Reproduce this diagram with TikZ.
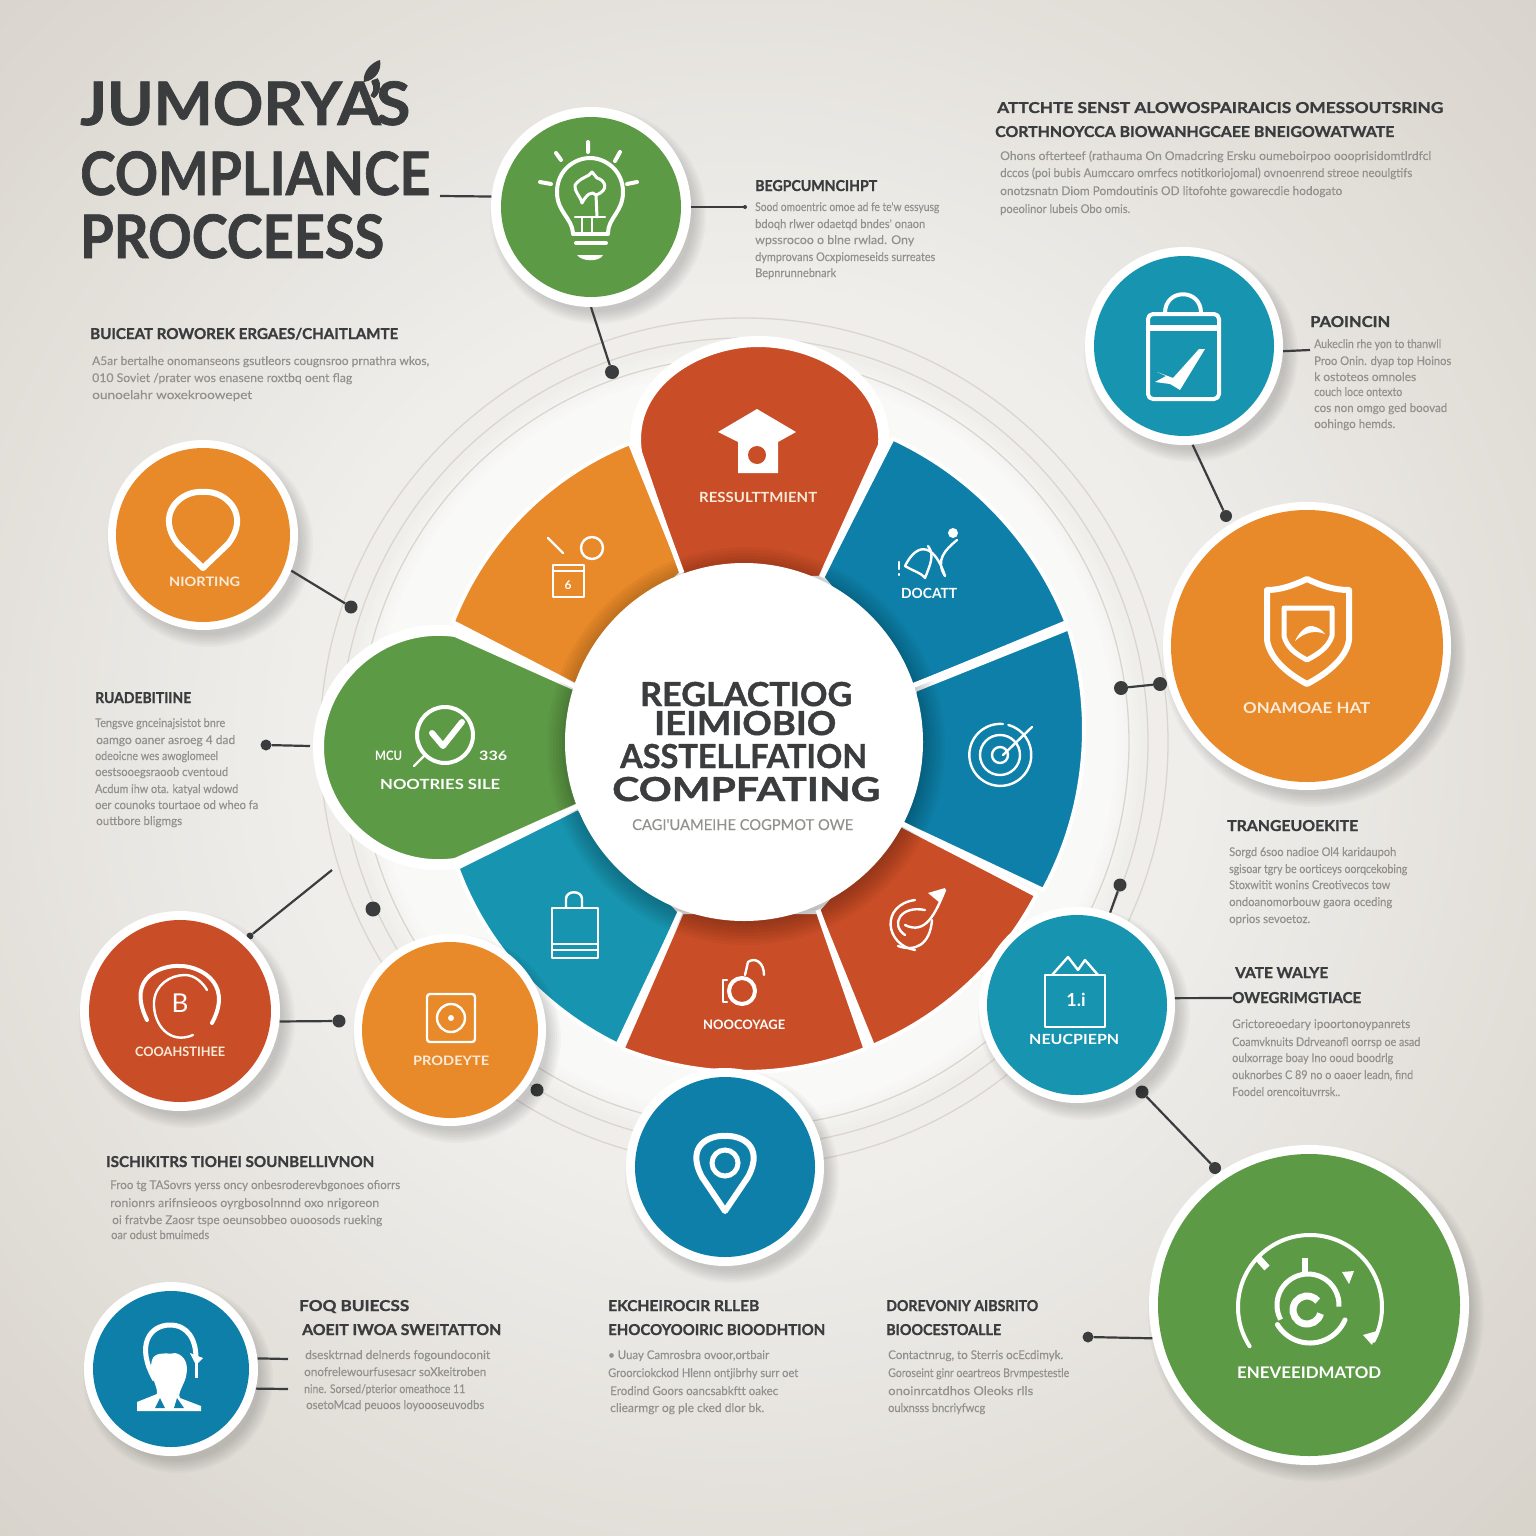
\documentclass[tikz,border=0pt]{standalone}
\usepackage{graphicx}
\usepackage{fontspec}
\setmainfont{Lato}
\newfontfamily\heavyf[FakeBold=1.2]{Lato Bold}
\newfontfamily\bodyf[FakeBold=0.25]{Lato}
\definecolor{bgA}{HTML}{F9F9F7}
\definecolor{bgD}{HTML}{EFEEEB}
\definecolor{bgC}{HTML}{D8D3CB}
\definecolor{ringc}{HTML}{DAD6CE}
\definecolor{ink}{HTML}{3A3C3E}
\definecolor{bodyc}{HTML}{92918D}
\definecolor{cOr}{HTML}{E8892A}
\definecolor{cRe}{HTML}{C94D27}
\definecolor{cGr}{HTML}{5D9A46}
\definecolor{cTe}{HTML}{1794AF}
\definecolor{cBl}{HTML}{0E7FA8}
\definecolor{cLab}{HTML}{FAEBD8}
\newcount\tn
\newcommand\Tx[6]{\global\advance\tn by 1
 \node[anchor=base west,inner sep=0pt,text=#6] (tx\the\tn) at (#1,#3) {\resizebox{\dimexpr#2pt-#1pt\relax}{\height}{\fontsize{#4}{#4}\selectfont #5}};}
\newcommand\Hd[4]{\Tx{#1}{#2}{#3+5}{15}{\heavyf #4}{ink}}
\newcommand\Bd[4]{\Tx{#1}{#2}{#3+4}{12}{\bodyf #4}{bodyc}}
\newcommand\Lb[5]{\Tx{#1}{#2}{#3+4.5}{#4}{\bfseries #5}{white}}
\newcommand\HubT[4]{\Tx{#1}{#2}{#3}{33}{\heavyf #4}{ink}}
\newcommand\Sector[6]{\fill[#1,draw=white,line width=4pt,line join=round] #5 -- plot[domain=#2:#3,samples=40] ({744+(#4)*cos(\x)},{742+(#4)*sin(\x)}) -- #6 -- cycle;}
\newcommand\Shad[3]{\foreach \k in {0,2,...,12}{\fill[black,fill opacity=.022] ({#1+7},{#2+9}) circle[radius={(#3+\k-4)*1pt}];}}
\newcommand\Badge[6]{\Shad{#2}{#3}{#5}
 \node[badge,minimum size={2*#5*1pt}] (#1) at (#2,#3) {};
 \fill[#6] (#1.center) circle[radius=#4 pt];}
\tikzset{
 badge/.style={circle,fill=white!97!bgA,inner sep=0pt},
 conn/.style={draw=ink,line width=2.2pt},
 dotn/.style={circle,fill=ink,inner sep=0pt,minimum size=#1},
 dotn/.default=13pt,
 icon/.style={draw=white,line width=4pt,line cap=round,line join=round},
 thin icon/.style={draw=white,line width=2.4pt,line cap=round,line join=round},
 ringl/.style={draw=ringc,line width=1.3pt}
}
\begin{document}
\begin{tikzpicture}[x=1pt,y=-1pt]
\useasboundingbox (0,0) rectangle (1536,1536);
% background
\begin{scope}
\clip (0,0) rectangle (1536,1536);
\fill[bgC] (0,0) rectangle (1536,1536);
\foreach \r in {1100,1090,...,450}{
 \pgfmathsetmacro\m{(\r-450)/6.5}
 \fill[bgC!\m!bgD] (744,742) circle[radius=\r pt];}
\foreach \r in {400,396,...,372}{
 \pgfmathsetmacro\m{(400-\r)/28*100}
 \fill[bgA!\m!bgD] (744,742) circle[radius=\r pt];}
\end{scope}
% rings
\draw[ringl] (744,742) circle[radius=385pt];
\draw[ringl] (744,742) circle[radius=404pt];
\draw[ringl] (744,742) circle[radius=424pt];
% pins halos
\path[fill=white,draw=white,line width=18pt,line join=round] (682,575) -- (640,452) .. controls (630,385) and (700,345) .. (758,345) .. controls (820,345) and (885,385) .. (880,445) -- (820,578) -- cycle;
\path[fill=white,draw=white,line width=18pt,line join=round] (578,690) -- (455,635) .. controls (385,625) and (322,680) .. (322,747) .. controls (322,815) and (385,870) .. (455,860) -- (578,805) -- cycle;
% wedges
\Sector{cOr}{202.4}{249.1}{315+5*(\x-202.4)/46.7}{(575,685)}{(682,572)}
\Sector{cBl}{-63.9}{-20.4}{338+6*(\x+63.9)/43.5}{(822,577)}{(912,686)}
\Sector{cBl}{-19.3}{26.3}{344-10*(\x+19.3)/45.6}{(915,690)}{(895,820)}
\Sector{cRe}{27.6}{67}{330}{(895,822)}{(818,910)}
\Sector{cRe}{68.4}{111.6}{330}{(818,912)}{(682,912)}
\Sector{cTe}{112.7}{156.3}{328-15*(\x-112.7)/43.6}{(680,912)}{(578,808)}
\path[fill=cRe,draw=white,line width=4pt,line join=round] (682,575) -- (640,452) .. controls (630,385) and (700,345) .. (758,345) .. controls (820,345) and (885,385) .. (880,445) -- (820,578) -- cycle;
\path[fill=cGr,draw=white,line width=4pt,line join=round] (578,690) -- (455,635) .. controls (385,625) and (322,680) .. (322,747) .. controls (322,815) and (385,870) .. (455,860) -- (578,805) -- cycle;
% shadow of the hub on the wedges
\begin{scope}
\clip (744,742) circle[radius=315pt];
\foreach \k in {0,3,...,21}{\fill[black,fill opacity=.03] (746,746) circle[radius={(178+\k)*1pt}];}
\end{scope}
\draw[white,line width=5pt] (895,820) -- (1037,895);
\draw[white,line width=5pt] (818,910) -- (868,1048);
\draw[white,line width=5pt] (680,912) -- (620,1047);
\draw[white,line width=5pt] (578,806) -- (457,866);
\draw[white,line width=5pt] (912,686) -- (1067,624);
\draw[white,line width=5pt] (822,577) -- (890,440);
\draw[white,line width=5pt] (682,573) -- (635,445);
\draw[white,line width=5pt] (578,688) -- (455,625);
% hub
\node[circle,fill=white,inner sep=0pt,minimum size=358pt] (hub) at (744,742) {};
% connectors' free ends and dots
\coordinate (ruleA) at (440,196);
\coordinate (tickB) at (745,207);
\coordinate (tickC) at (1310,350);
\coordinate (wpA) at (310,746);
\coordinate (freeA) at (332,870);
\coordinate (shortD) at (1232,998);
\coordinate (pA) at (288,1359);
\coordinate (pB) at (288,1389);
\node[dotn=14pt] (d1) at (612,372) {};
\node[dotn=12pt] (d2) at (1226,516) {};
\node[dotn=13pt] (d3) at (351,607) {};
\node[dotn=11pt] (d4) at (266,745) {};
\node[dotn=7pt] (d5) at (250,936) {};
\node[dotn=13pt] (d6) at (339,1021) {};
\node[dotn=15pt] (d7) at (373,909) {};
\node[dotn=13pt] (d8) at (537,1090) {};
\node[dotn=14pt] (d9) at (1121,688) {};
\node[dotn=14pt] (d10) at (1160,684) {};
\node[dotn=13pt] (d11) at (1120,885) {};
\node[dotn=13pt] (d12) at (1142,1092) {};
\node[dotn=12pt] (d13) at (1215,1168) {};
\node[dotn=11pt] (d14) at (1088,1337) {};
\node[dotn=4pt] (d15) at (745,207) {};
% badges
\Badge{bulb}{591}{207}{90}{100}{cGr}
\Badge{clip}{1184}{346}{90}{99}{cTe}
\Badge{pinL}{203}{535}{87}{95}{cOr}
\Badge{shield}{1307}{646}{136}{144}{cOr}
\Badge{redL}{180}{1011}{91}{100}{cRe}
\Badge{orS}{450}{1030}{88}{96}{cOr}
\Badge{teR}{1077}{1005}{90}{98}{cTe}
\Badge{pinB}{725}{1167}{90}{99}{cBl}
\Badge{bigG}{1309}{1305}{151}{160}{cGr}
\Badge{person}{171}{1369}{78}{87}{cBl}
% connectors
\draw[conn] (ruleA) -- (bulb.174);
\draw[conn] (bulb.-90) -- (d1);
\draw[conn] (bulb) -- (tickB);
\draw[conn] (clip.-3) -- (tickC);
\draw[conn] (clip.-85) -- (d2);
\draw[conn] (pinL.-22) -- (d3);
\draw[conn] (wpA) -- (d4);
\draw[conn] (freeA) -- (d5);
\draw[conn] (redL.-6) -- (d6);
\draw[conn] (d9) -- (d10);
\draw[conn] (teR) -- (d11);
\draw[conn] (teR.4) -- (shortD);
\draw[conn] (d12) -- (d13);
\draw[conn] (bigG.192) -- (d14);
\draw[conn] (person.7) -- (pA);
\draw[conn] (person.-13) -- (pB);
% ---------- icons
% bulb
\draw[icon] (573,233) .. controls (572,218) and (557,212) .. (557,192) .. controls (557,170) and (575,158) .. (590,158) .. controls (605,158) and (623,170) .. (623,192) .. controls (623,212) and (608,218) .. (608,233);
\draw[thin icon] (575,217) -- (605,217) (582,217) -- (582,233) (592,217) -- (592,233);
\draw[icon] (573,234) -- (608,234);
\draw[icon] (576,243) -- (606,243);
\fill[white] (577,255) -- (603,255) .. controls (600,262) and (582,262) .. (577,255) -- cycle;
\draw[icon] (588,142) -- (588,152) (556,153) -- (561,160) (620,152) -- (615,161) (540,182) -- (551,184) (637,182) -- (627,184);
\draw[thin icon,line width=3pt] (597,217) -- (596,195) .. controls (610,190) and (605,180) .. (597,178) -- (592,172) .. controls (588,178) and (582,176) .. (575,185) .. controls (574,192) and (580,195) .. (582,203) .. controls (586,195) and (592,190) .. (596,195);
% clipboard
\draw[icon,rounded corners=5pt] (1148,314) rectangle (1219,399);
\draw[icon] (1165,313) .. controls (1165,288) and (1201,288) .. (1201,313);
\fill[white] (1150,325) rectangle (1217,331);
\fill[white] (1157,372) -- (1173,378) -- (1199,349) -- (1205,349) -- (1180,390) -- (1170,384) -- (1155,382) -- (1166,376) -- cycle;
% grad cap
\fill[white] (718,432) -- (757,409) -- (796,432) -- (778,442) -- (778,473) -- (738,473) -- (738,442) -- cycle;
\fill[cRe] (757,455) circle[radius=9pt];
% NW orange icon
\draw[thin icon] (548,538) -- (563,553);
\draw[thin icon] (592,548) circle[radius=11pt];
\draw[thin icon] (553,565) rectangle (584,597);
\draw[thin icon] (553,571) -- (584,571);
\node[text=white,inner sep=0pt,font=\bfseries\fontsize{12}{12}\selectfont] (ic1) at (568,585) {6};
% NE icon
\draw[thin icon] (905,566) .. controls (918,540) and (935,545) .. (945,576) .. controls (935,560) and (945,550) .. (957,540);
\draw[thin icon] (905,566) .. controls (915,572) and (920,572) .. (925,578) .. controls (930,565) and (935,555) .. (928,546);
\fill[white] (953,533) circle[radius=5pt];
\draw[thin icon] (899,562) -- (899,569) (899,574) -- (899,575);
% target E
\draw[thin icon] (1003,724) arc[start angle=85,end angle=435,radius=31pt];
\draw[thin icon] (1000,755) circle[radius=20pt];
\draw[thin icon] (1000,755) circle[radius=8pt];
\draw[thin icon] (1003,755) -- (1032,727);
% SE icon
\draw[thin icon] (915,950) .. controls (885,945) and (880,905) .. (915,900) ;
\draw[thin icon] (905,935) .. controls (890,925) and (900,905) .. (925,910) ;
\draw[thin icon] (905,925) .. controls (925,935) and (935,915) .. (945,890) ;
\draw[thin icon] (898,946) .. controls (915,952) and (930,945) .. (932,920);
\fill[white] (928,893) -- (945,888) -- (940,903) -- cycle;
% S icon
\draw[icon] (742,991) circle[radius=13pt];
\draw[thin icon] (727,980) -- (723,980) -- (723,1002) -- (727,1002);
\draw[thin icon] (745,975) -- (748,962) .. controls (755,957) and (764,962) .. (764,975);
% SW bag
\draw[thin icon] (552,908) rectangle (598,958);
\draw[thin icon] (552,944) -- (598,944) (552,950) -- (598,950);
\draw[thin icon] (566,908) -- (566,899) .. controls (566,890) and (582,890) .. (582,899) -- (582,908);
% green check
\draw[icon] (445,735) circle[radius=28pt];
\draw[line width=6pt,draw=white,line cap=round,line join=round] (432,733) -- (443,746) -- (462,722);
\draw[thin icon] (414,766) -- (425,755);
% pin left
\draw[line width=6pt,draw=white,line join=round] (203,568) -- (178,544) .. controls (155,515) and (180,490) .. (203,492) .. controls (226,490) and (251,515) .. (228,544) -- cycle;
% shield
\draw[line width=6pt,draw=white,line join=round] (1307,579) .. controls (1292,586) and (1280,590) .. (1267,590) -- (1267,640) .. controls (1270,660) and (1290,675) .. (1307,684) .. controls (1324,675) and (1346,660) .. (1349,640) -- (1349,590) .. controls (1334,590) and (1322,586) .. (1307,579) -- cycle;
\draw[line width=5pt,draw=white,line join=round] (1284,608) -- (1332,608) -- (1332,636) .. controls (1328,648) and (1318,654) .. (1307,660) .. controls (1296,654) and (1287,648) .. (1284,636) -- cycle;
\fill[white] (1295,641) .. controls (1300,630) and (1308,625) .. (1312,626) .. controls (1318,627) and (1322,630) .. (1325,634) .. controls (1315,630) and (1305,632) .. (1295,641) -- cycle;
% red left
\draw[icon] (147,1020) .. controls (125,975) and (165,965) .. (179,966) .. controls (195,965) and (235,980) .. (212,1023);
\draw[thin icon] (193,1035) .. controls (170,1045) and (153,1025) .. (154,1002) .. controls (155,985) and (170,975) .. (185,975) .. controls (195,975) and (203,983) .. (207,990);
\node[text=white,inner sep=0pt,font=\fontsize{26}{26}\selectfont] (ic2) at (180,1003) {B};
% orange square
\draw[thin icon,rounded corners=3pt] (427,994) rectangle (475,1042);
\draw[thin icon] (451,1018) circle[radius=14pt];
\fill[white] (451,1018) circle[radius=3pt];
% teal right
\draw[thin icon] (1045,975) rectangle (1105,1027);
\draw[thin icon] (1052,975) -- (1068,957) -- (1078,970) -- (1085,960) -- (1098,975);
\node[text=white,inner sep=0pt,font=\bfseries\fontsize{18}{18}\selectfont] (ic3) at (1076,1000) {1.i};
% bottom pin
\draw[line width=6pt,draw=white,line join=round] (725,1211) -- (702,1177) .. controls (685,1145) and (710,1135) .. (725,1136) .. controls (740,1135) and (765,1145) .. (748,1177) -- cycle;
\draw[line width=5pt,draw=white] (725,1163) circle[radius=13pt];
% big green
\draw[icon] ({1310+72*cos(147)},{1307+72*sin(147)}) arc[start angle=213,end angle=-28,radius=72pt];
\draw[line width=7pt,draw=white] (1258,1258) -- (1267,1268);
\fill[white] (1342,1272) -- (1354,1271) -- (1349,1284) -- cycle;
\fill[white] (1363,1335) -- (1377,1331) -- (1372,1345) -- cycle;
\draw[line width=5pt,draw=white] ({1308+31*cos(152)},{1305+31*sin(152)}) arc[start angle=208,end angle=-3,radius=31pt];
\draw[line width=5pt,draw=white,line cap=round] ({1310+38*cos(23)},{1305+38*sin(23)}) arc[start angle=-23,end angle=-149,radius=38pt];
\draw[line width=6pt,draw=white] (1305,1258) -- (1305,1274);
\draw[line width=7pt,draw=white] ({1307+14*cos(15)},{1310+14*sin(15)}) arc[start angle=-15,end angle=-320,radius=14pt];
% person
\draw[line width=5pt,draw=white] (155,1380) .. controls (135,1345) and (150,1325) .. (170,1325) .. controls (188,1325) and (196,1340) .. (196,1358);
\fill[white] (152,1360) .. controls (155,1350) and (170,1355) .. (175,1353) .. controls (185,1355) and (190,1365) .. (185,1380) .. controls (180,1392) and (178,1394) .. (180,1398) -- (201,1406) -- (201,1411) -- (137,1411) -- (137,1402) -- (157,1394) .. controls (158,1385) and (148,1375) .. (152,1360) -- cycle;
\fill[white] (190,1353) -- (203,1358) -- (196,1365) -- cycle;
\draw[line width=3pt,draw=white] (196,1360) -- (196,1378);
\fill[cBl] (160,1398) -- (165,1408) -- (155,1408) -- cycle;
\fill[cBl] (177,1398) -- (184,1408) -- (174,1408) -- cycle;
% leaf
\fill[ink] (364,82) .. controls (362,72) and (372,62) .. (380,60) .. controls (382,70) and (376,80) .. (364,82) -- cycle;
% ---------- title
\Tx{80}{410}{125}{60}{\heavyf JUMORYA\kern-.2em’\kern-.1em S}{ink}
\Tx{80}{430}{195}{60}{\heavyf COMPLIANCE}{ink}
\Tx{80}{384}{258}{60}{\heavyf PROCCEESS}{ink}
% ---------- hub text
\HubT{640}{852}{706}{REGLACTIOG}
\HubT{654}{836}{735}{IEIMIOBIO}
\HubT{620}{867}{768}{ASSTELLFATION}
\HubT{612}{880}{801}{COMPFATING}
\Tx{632}{853}{830}{15}{\bodyf CAGI'UAMEIHE COGPMOT OWE}{bodyc}
% ---------- labels
\Tx{699}{817}{502}{14}{\bfseries RESSULTTMIENT}{cLab}
\Lb{901}{957}{594}{14}{DOCATT}
\Lb{375}{402}{756}{13}{MCU}
\Lb{479}{507}{756}{13}{336}
\Lb{380}{500}{785}{14}{NOOTRIES SILE}
\Lb{703}{785}{1025}{13}{NOOCOYAGE}
\Tx{169}{240}{586}{13}{\bfseries NIORTING}{cLab}
\Tx{1243}{1370}{713}{15}{\bfseries ONAMOAE HAT}{cLab}
\Tx{135}{225}{1056}{13}{\bfseries COOAHSTIHEE}{cLab}
\Tx{413}{489}{1065}{13}{\bfseries PRODEYTE}{cLab}
\Lb{1029}{1119}{1040}{14}{NEUCPIEPN}
\Lb{1237}{1381}{1374}{16}{ENEVEEIDMATOD}
% ---------- sections
\Hd{90}{398}{334}{BUICEAT ROWOREK ERGAES/CHAITLAMTE}
\Bd{92}{429}{361}{A5ar bertalhe onomanseons gsutleors cougnsroo prnathra wkos,}
\Bd{92}{352}{378}{010 Soviet /prater wos enasene roxtbq oent flag}
\Bd{92}{252}{395}{ounoelahr woxekroowepet}
\Hd{997}{1443}{108}{ATTCHTE SENST ALOWOSPAIRAICIS OMESSOUTSRING}
\Hd{995}{1394}{132}{CORTHNOYCCA BIOWANHGCAEE BNEIGOWATWATE}
\Bd{1000}{1431}{156}{Ohons ofterteef (rathauma On Omadcring Ersku oumeboirpoo oooprisidomtlrdfcl}
\Bd{1000}{1412}{173}{dccos (poi bubis Aumccaro omrfecs notitkoriojomal) ovnoenrend streoe neoulgtifs}
\Bd{1000}{1342}{191}{onotzsnatn Diom Pomdoutinis OD litofohte gowarecdie hodogato}
\Bd{1000}{1130}{209}{poeolinor lubeis Obo omis.}
\Hd{755}{877}{186}{BEGPCUMNCIHPT}
\Bd{755}{939}{207}{Sood omoentric omoe ad fe te'w essyusg}
\Bd{755}{925}{224}{bdoqh rlwer odaetqd bndes' onaon}
\Bd{755}{914}{240}{wpssrocoo o blne rwlad. Ony}
\Bd{755}{935}{257}{dymprovans Ocxpiomeseids surreates}
\Bd{755}{836}{273}{Bepnrunnebnark}
\Hd{1310}{1390}{322}{PAOINCIN}
\Bd{1314}{1441}{344}{Aukeclin rhe yon to thanwll}
\Bd{1314}{1451}{361}{Proo Onin. dyap top Hoinos}
\Bd{1314}{1416}{377}{k ostoteos omnoles}
\Bd{1314}{1402}{392}{couch loce ontexto}
\Bd{1314}{1447}{408}{cos non omgo ged boovad}
\Bd{1314}{1395}{424}{oohingo hemds.}
\Hd{95}{191}{698}{RUADEBITIINE}
\Bd{95}{225}{723}{Tengsve gnceinajsistot bnre}
\Bd{96}{235}{740}{oamgo oaner asroeg 4 dad}
\Bd{95}{218}{756}{odeoicne wes awoglomeel}
\Bd{95}{228}{772}{oestsooegsraoob cventoud}
\Bd{95}{238}{789}{Acdum ihw ota. katyal wdowd}
\Bd{95}{258}{805}{oer counoks tourtaoe od wheo fa}
\Bd{96}{182}{821}{outtbore bligmgs}
\Hd{1227}{1358}{826}{TRANGEUOEKITE}
\Bd{1229}{1396}{852}{Sorgd 6soo nadioe Ol4 karidaupoh}
\Bd{1229}{1407}{869}{sgisoar tgry be oorticeys oorqcekobing}
\Bd{1229}{1390}{885}{Stoxwitit wonins Creotivecos tow}
\Bd{1229}{1392}{902}{ondoanomorbouw gaora oceding}
\Bd{1229}{1310}{919}{oprios sevoetoz.}
\Hd{1235}{1328}{973}{VATE WALYE}
\Hd{1232}{1361}{998}{OWEGRIMGTIACE}
\Bd{1232}{1410}{1024}{Grictoreoedary ipoortonoypanrets}
\Bd{1232}{1420}{1042}{Coamvknuits Ddrveanofl oorrsp oe asad}
\Bd{1232}{1393}{1058}{oulxorrage boay Ino ooud boodrlg}
\Bd{1232}{1413}{1075}{ouknorbes C 89 no o oaoer leadn, find}
\Bd{1232}{1340}{1092}{Foodel orencoituvrrsk..}
\Hd{106}{374}{1162}{ISCHIKITRS TIOHEI SOUNBELLIVNON}
\Bd{110}{400}{1185}{Froo tg TASovrs yerss oncy onbesroderevbgonoes ofiorrs}
\Bd{110}{379}{1203}{ronionrs arifnsieoos oyrgbosolnnnd oxo nrigoreon}
\Bd{112}{382}{1220}{oi fratvbe Zaosr tspe oeunsobbeo ouoosods rueking}
\Bd{111}{209}{1235}{oar odust bmuimeds}
\Hd{299}{409}{1306}{FOQ BUIECSS}
\Hd{302}{501}{1330}{AOEIT IWOA SWEITATTON}
\Bd{305}{490}{1355}{dsesktrnad delnerds fogoundoconit}
\Bd{304}{486}{1372}{onofrelewourfusesacr soXkeitroben}
\Bd{304}{465}{1389}{nine. Sorsed/pterior omeathoce 11}
\Bd{306}{484}{1405}{osetoMcad peuoos loyoooseuvodbs}
\Hd{608}{759}{1306}{EKCHEIROCIR RLLEB}
\Hd{608}{825}{1330}{EHOCOYOOIRIC BIOODHTION}
\Bd{608}{769}{1355}{• Uuay Camrosbra ovoor,ortbair}
\Bd{608}{798}{1373}{Groorciokckod Hlenn ontjibrhy surr oet}
\Bd{610}{778}{1391}{Erodind Goors oancsabkftt oakec}
\Bd{610}{764}{1408}{cliearmgr og ple cked dlor bk.}
\Hd{886}{1038}{1306}{DOREVONIY AIBSRITO}
\Hd{886}{1001}{1330}{BIOOCESTOALLE}
\Bd{888}{1063}{1355}{Contactnrug, to Sterris ocEcdimyk.}
\Bd{888}{1069}{1373}{Goroseint ginr oeartreos Brvmpestestle}
\Bd{888}{1033}{1391}{onoinrcatdhos Oleoks rlls}
\Bd{888}{985}{1408}{oulxnsss bncriyfwcg}
\end{tikzpicture}
\end{document}
